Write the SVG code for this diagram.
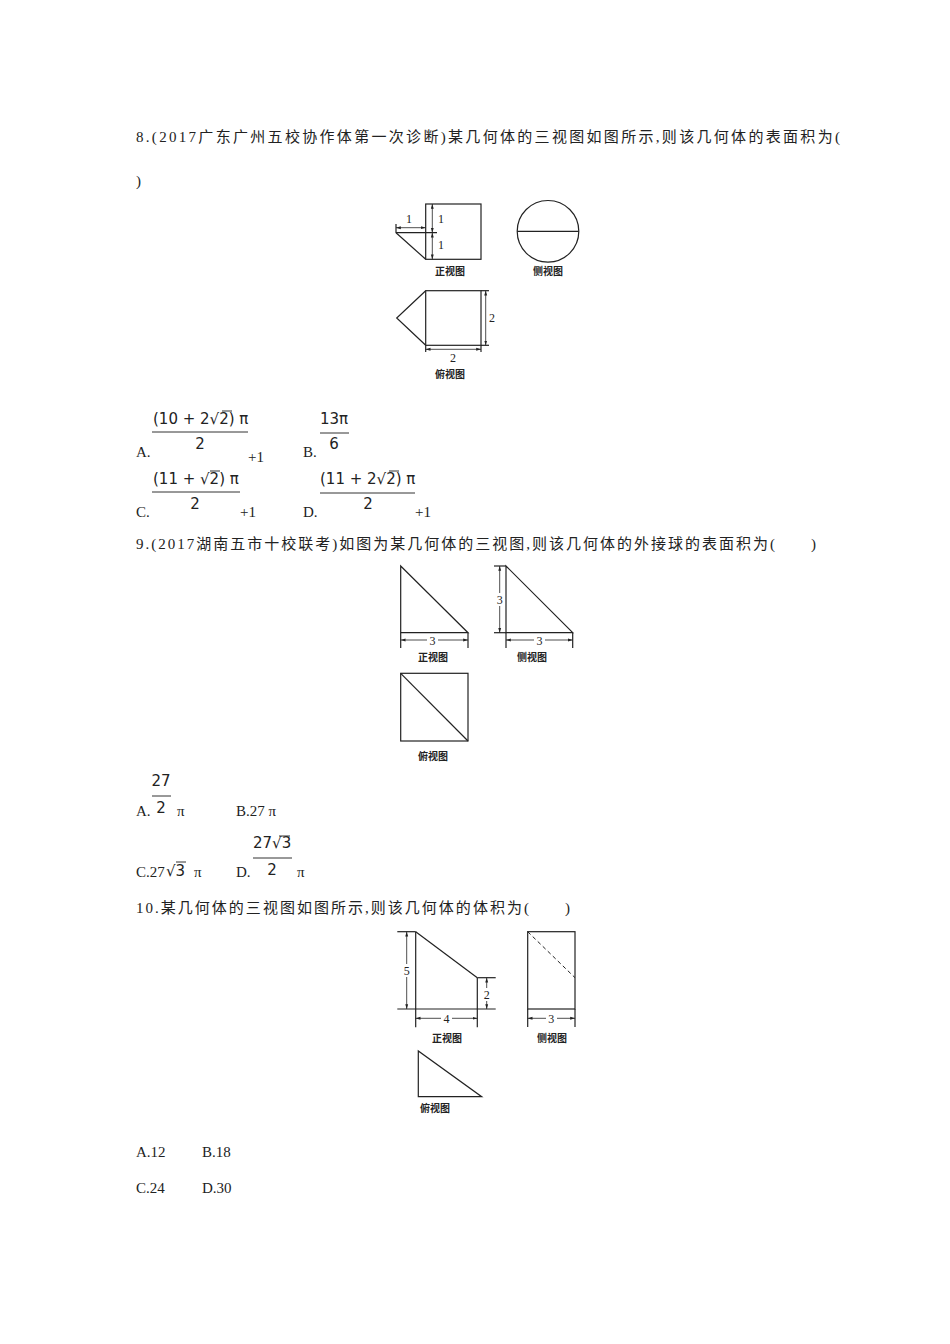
<svg xmlns="http://www.w3.org/2000/svg" width="950" height="1344" viewBox="0 0 950 1344">
<style>
.t{font-family:"Liberation Serif","Noto Sans CJK SC",serif;font-size:15px;fill:#222}
.m{font-family:"DejaVu Sans","Noto Sans",sans-serif;font-size:15px;fill:#222}
.s{font-family:"Liberation Serif","Noto Sans CJK SC",serif;font-size:10px;fill:#222;font-weight:bold}
.n{font-family:"Liberation Serif",serif;font-size:12px;fill:#222}
.l{stroke:#222;stroke-width:1.2;fill:none}
.d{stroke:#222;stroke-width:0.8;fill:none;marker-start:url(#a);marker-end:url(#a)}
.b{stroke:#333;stroke-width:1}
</style>
<defs><marker id="a" viewBox="0 0 10 10" refX="10" refY="5" markerWidth="6" markerHeight="6" orient="auto-start-reverse"><path d="M0,2 L10,5 L0,8 z" fill="#222"/></marker></defs>
<rect width="950" height="1344" fill="#fff"/>
<g id="q8">
<text class="t" x="136" y="142" textLength="704">8.(2017广东广州五校协作体第一次诊断)某几何体的三视图如图所示,则该几何体的表面积为(</text>
<text class="t" x="136" y="186">)</text>
</g>
<g id="fig8">
<rect class="l" x="425.7" y="204" width="55.3" height="55.3"/>
<line class="d" x1="432.3" y1="204" x2="432.3" y2="232.7"/>
<line class="d" x1="432.3" y1="232.7" x2="432.3" y2="259.3"/>
<line class="l" x1="396" y1="232.7" x2="437" y2="232.7"/>
<line class="l" x1="396" y1="224" x2="396" y2="233"/>
<line class="d" x1="396" y1="227.7" x2="425.7" y2="227.7"/>
<line class="l" x1="396" y1="232.7" x2="425.7" y2="259.3"/>
<text class="n" x="409" y="223" text-anchor="middle">1</text>
<text class="n" x="438" y="223">1</text>
<text class="n" x="438" y="249">1</text>
<text class="s" x="450" y="275" text-anchor="middle">正视图</text>
<circle class="l" cx="548" cy="231.3" r="30.8"/>
<line class="l" x1="517.2" y1="231.3" x2="578.8" y2="231.3"/>
<text class="s" x="548" y="275" text-anchor="middle">侧视图</text>
<rect class="l" x="425.7" y="290.7" width="55.3" height="54.6"/>
<polyline class="l" points="425.7,290.7 396.7,318 425.7,345.3"/>
<line class="l" x1="481" y1="290.7" x2="489" y2="290.7"/>
<line class="l" x1="481" y1="345.3" x2="489" y2="345.3"/>
<line class="d" x1="485.7" y1="290.7" x2="485.7" y2="345.3"/>
<text class="n" x="489" y="322">2</text>
<line class="l" x1="425.7" y1="345.3" x2="425.7" y2="352"/>
<line class="l" x1="481" y1="345.3" x2="481" y2="352"/>
<line class="d" x1="425.7" y1="349.3" x2="481" y2="349.3"/>
<text class="n" x="453" y="362" text-anchor="middle">2</text>
<text class="s" x="450" y="378" text-anchor="middle">俯视图</text>
</g>
<g id="opt8">
<text class="t" x="136" y="457">A.</text>
<text class="m" x="153" y="424">(10 + 2√2) π</text><line class="b" x1="222" y1="411" x2="232" y2="411"/>
<line class="b" x1="152" y1="432" x2="248" y2="432"/>
<text class="m" x="200" y="449" text-anchor="middle">2</text>
<text class="t" x="248" y="462">+1</text>
<text class="t" x="303" y="457">B.</text>
<text class="m" x="320" y="424">13π</text>
<line class="b" x1="320" y1="433" x2="349" y2="433"/>
<text class="m" x="334" y="449" text-anchor="middle">6</text>
<text class="t" x="136" y="517">C.</text>
<text class="m" x="153" y="484">(11 + √2) π</text><line class="b" x1="210" y1="471" x2="220" y2="471"/>
<line class="b" x1="152" y1="492" x2="240" y2="492"/>
<text class="m" x="195" y="509" text-anchor="middle">2</text>
<text class="t" x="240" y="517">+1</text>
<text class="t" x="303" y="517">D.</text>
<text class="m" x="320" y="484">(11 + 2√2) π</text><line class="b" x1="389" y1="471" x2="399" y2="471"/>
<line class="b" x1="320" y1="493" x2="415" y2="493"/>
<text class="m" x="368" y="509" text-anchor="middle">2</text>
<text class="t" x="415" y="517">+1</text>
</g>
<g id="q9"><text class="t" x="136" y="549" textLength="680">9.(2017湖南五市十校联考)如图为某几何体的三视图,则该几何体的外接球的表面积为(　　)</text></g>
<g id="fig9">
<polygon class="l" points="400.7,566 400.7,632.7 468,632.7"/>
<line class="l" x1="400.7" y1="632.7" x2="400.7" y2="648"/>
<line class="l" x1="468" y1="632.7" x2="468" y2="648"/>
<line class="d" x1="400.7" y1="640" x2="468" y2="640"/>
<rect x="427" y="634" width="11" height="12" fill="#fff"/>
<text class="n" x="432.5" y="644.5" text-anchor="middle">3</text>
<text class="s" x="433" y="661" text-anchor="middle">正视图</text>
<polygon class="l" points="506,566 506,632.7 572.7,632.7"/>
<line class="l" x1="494" y1="566" x2="506" y2="566"/>
<line class="l" x1="494" y1="632.7" x2="506" y2="632.7"/>
<line class="d" x1="499.7" y1="566" x2="499.7" y2="632.7"/>
<rect x="495" y="593" width="9" height="13" fill="#fff"/>
<text class="n" x="499.7" y="604" text-anchor="middle">3</text>
<line class="l" x1="506" y1="632.7" x2="506" y2="648"/>
<line class="l" x1="572.7" y1="632.7" x2="572.7" y2="648"/>
<line class="d" x1="506" y1="640" x2="572.7" y2="640"/>
<rect x="534" y="634" width="11" height="12" fill="#fff"/>
<text class="n" x="539.5" y="644.5" text-anchor="middle">3</text>
<text class="s" x="532" y="661" text-anchor="middle">侧视图</text>
<rect class="l" x="400.7" y="673.3" width="67.3" height="67.7"/>
<line class="l" x1="400.7" y1="673.3" x2="468" y2="741"/>
<text class="s" x="433" y="760" text-anchor="middle">俯视图</text>
</g>
<g id="opt9">
<text class="t" x="136" y="816">A.</text>
<text class="m" x="161" y="786" text-anchor="middle">27</text>
<line class="b" x1="152" y1="796" x2="171" y2="796"/>
<text class="m" x="161" y="813" text-anchor="middle">2</text>
<text class="t" x="177" y="816">π</text>
<text class="t" x="236" y="816">B.27 π</text>
<text class="t" x="136" y="877">C.27</text><text class="m" x="166" y="876">√3</text><line class="b" x1="176" y1="862" x2="186" y2="862"/><text class="t" x="194" y="877">π</text>
<text class="t" x="236" y="877">D.</text>
<text class="m" x="253" y="848">27√3</text><line class="b" x1="279" y1="836" x2="290" y2="836"/>
<line class="b" x1="253" y1="858" x2="292" y2="858"/>
<text class="m" x="272" y="875" text-anchor="middle">2</text>
<text class="t" x="297" y="877">π</text>
</g>
<g id="q10"><text class="t" x="136" y="913" textLength="434">10.某几何体的三视图如图所示,则该几何体的体积为(　　)</text></g>
<g id="fig10">
<line class="l" x1="415.7" y1="931.7" x2="415.7" y2="1027.3"/>
<line class="l" x1="397.3" y1="931.7" x2="415.7" y2="931.7"/>
<line class="l" x1="415.7" y1="931.7" x2="477.3" y2="977.7"/>
<line class="l" x1="477.3" y1="977.7" x2="495.7" y2="977.7"/>
<line class="l" x1="477.3" y1="977.7" x2="477.3" y2="1027.3"/>
<line class="l" x1="397.3" y1="1009" x2="495.7" y2="1009"/>
<line class="d" x1="406.7" y1="931.7" x2="406.7" y2="1009"/>
<rect x="402" y="964" width="9" height="13" fill="#fff"/>
<text class="n" x="406.7" y="975" text-anchor="middle">5</text>
<line class="d" x1="486.7" y1="977.7" x2="486.7" y2="1009"/>
<rect x="482" y="988" width="9" height="13" fill="#fff"/>
<text class="n" x="486.7" y="999" text-anchor="middle">2</text>
<line class="d" x1="415.7" y1="1018.3" x2="477.3" y2="1018.3"/>
<rect x="441" y="1012" width="11" height="12" fill="#fff"/>
<text class="n" x="446.5" y="1022.5" text-anchor="middle">4</text>
<text class="s" x="447" y="1042" text-anchor="middle">正视图</text>
<rect class="l" x="527.7" y="931.7" width="47.3" height="77.3"/>
<line class="l" x1="527.7" y1="1009" x2="527.7" y2="1027"/>
<line class="l" x1="575" y1="1009" x2="575" y2="1027"/>
<line x1="527.7" y1="931.7" x2="575" y2="977.7" stroke="#222" stroke-width="1" stroke-dasharray="4,3"/>
<line class="d" x1="527.7" y1="1018.3" x2="575" y2="1018.3"/>
<rect x="546" y="1012" width="11" height="12" fill="#fff"/>
<text class="n" x="551.3" y="1022.5" text-anchor="middle">3</text>
<text class="s" x="552" y="1042" text-anchor="middle">侧视图</text>
<polygon class="l" points="418.3,1051 418.3,1096.7 481.7,1096.7"/>
<text class="s" x="435" y="1112" text-anchor="middle">俯视图</text>
</g>
<g id="opt10">
<text class="t" x="136" y="1157">A.12</text><text class="t" x="202" y="1157">B.18</text>
<text class="t" x="136" y="1193">C.24</text><text class="t" x="202" y="1193">D.30</text>
</g>
</svg>
